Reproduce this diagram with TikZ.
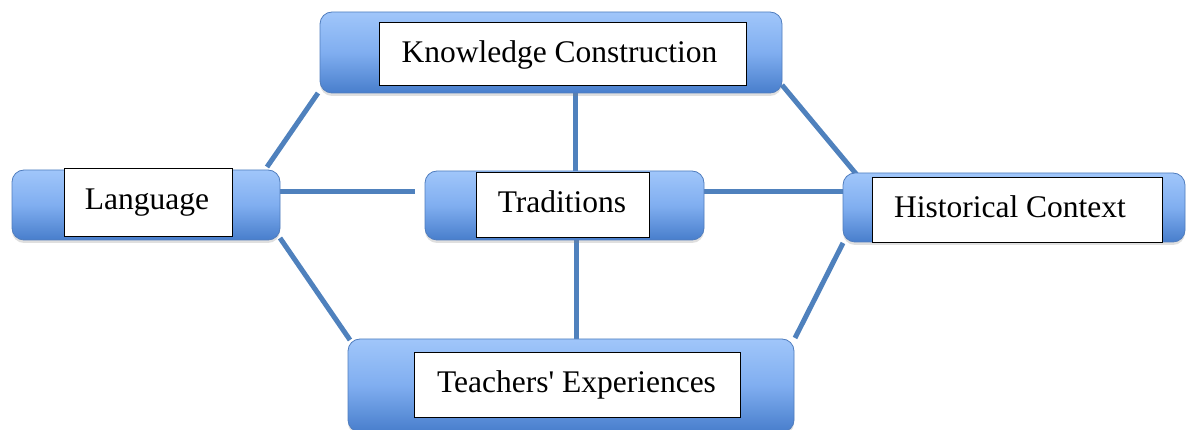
\documentclass[tikz,border=0pt]{standalone}
\usepackage{fontspec}
\setmainfont{Liberation Serif}[Ligatures=TeXOff]
\usetikzlibrary{calc,shadows,backgrounds}
\definecolor{connblue}{RGB}{79,129,189}
\definecolor{toplight}{RGB}{160,198,250}
\definecolor{midblue}{RGB}{128,174,240}
\definecolor{botblue}{RGB}{72,126,204}
\definecolor{edgeblue}{RGB}{80,125,190}
\tikzset{
  bluebox/.style={draw=edgeblue, line width=0.8pt, rounded corners=12pt,
    top color=toplight, bottom color=botblue, middle color=midblue,
    drop shadow={opacity=0.25, shadow xshift=0pt, shadow yshift=-3pt},
    inner sep=0pt, outer sep=0pt},
  whitebox/.style={draw=black, line width=1pt, fill=white, inner sep=0pt},
  label/.style={font=\fontsize{31.5}{36}\selectfont, anchor=base, inner sep=0pt},
  conn/.style={draw=connblue, line width=5pt}
}
\begin{document}
\begin{tikzpicture}[x=1pt,y=-1pt]
\useasboundingbox (0,0) rectangle (1187,430);
% blue boxes
\node[bluebox, minimum width=462pt, minimum height=81pt] (kc) at (551,52.5) {};
\node[bluebox, minimum width=268pt, minimum height=70pt] (lang) at (146,205) {};
\node[bluebox, minimum width=279pt, minimum height=69pt] (trad) at (564.5,205.5) {};
\node[bluebox, minimum width=342pt, minimum height=69pt] (hc) at (1014,207.5) {};
\node[bluebox, minimum width=446pt, minimum height=93pt] (te) at (571,385.5) {};
% connectors behind the boxes
\begin{scope}[on background layer]
\draw[conn] ($(kc.south west)+(-2,0)$) -- ($(lang.north east)+(-13,-3)$);
\draw[conn] ($(kc.south east)+(0,-8)$) -- ($(hc.north west)+(14,2)$);
\draw[conn] ($(kc.south)+(24,0)$) -- ($(trad.north)+(10.5,0)$);
\draw[conn] ($(lang.east)+(0,-13)$) -- ($(trad.west)+(-10,-13.5)$);
\draw[conn] ($(trad.east)+(0,-13.5)$) -- ($(hc.west)+(0,-15.5)$);
\draw[conn] ($(trad.south)+(11.5,0)$) -- ($(te.north)+(5,0)$);
\draw[conn] ($(lang.south east)+(0,-2)$) -- ($(te.north west)+(2,1)$);
\draw[conn] ($(hc.south west)+(0,1)$) -- ($(te.north east)+(1,-1)$);
\end{scope}
% white label boxes
\node[whitebox, minimum width=367pt, minimum height=63pt] (kcw) at (562.5,54.5) {};
\node[whitebox, minimum width=168pt, minimum height=68pt] (langw) at (148,203) {};
\node[whitebox, minimum width=173pt, minimum height=65pt] (tradw) at (562.5,205.5) {};
\node[whitebox, minimum width=290pt, minimum height=65pt] (hcw) at (1017,210.5) {};
\node[whitebox, minimum width=326pt, minimum height=65pt] (tew) at (577,385.5) {};
% texts
\node[label] (kct) at (559.5,63) {Knowledge Construction};
\node[label] (langt) at (147,210) {Language};
\node[label] (tradt) at (562,213) {Traditions};
\node[label] (hct) at (1010,218) {Historical Context};
\node[label] (tet) at (576.5,393) {Teachers' Experiences};
\end{tikzpicture}
\end{document}
